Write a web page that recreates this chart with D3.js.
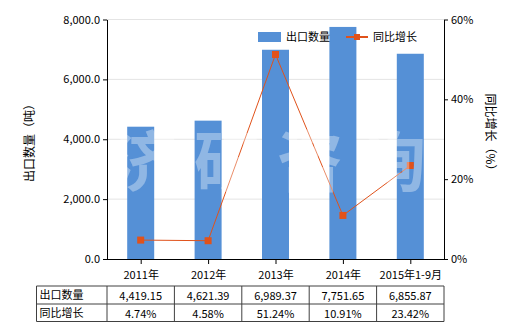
<!DOCTYPE html>
<html><head><meta charset="utf-8">
<script src="https://cdn.jsdelivr.net/npm/d3@7"></script>
<style>body{margin:0;background:#fff}text{font-family:"Noto Sans CJK SC","Noto Sans",sans-serif}</style>
</head><body>
<svg id="c" width="520" height="330"></svg>
<script>
const categories = ["2011年","2012年","2013年","2014年","2015年1-9月"];
const exportQty = [4419.15, 4621.39, 6989.37, 7751.65, 6855.87];
const growth = [4.74, 4.58, 51.24, 10.91, 23.42];
const qtyLabels = ["4,419.15","4,621.39","6,989.37","7,751.65","6,855.87"];
const growthLabels = ["4.74%","4.58%","51.24%","10.91%","23.42%"];
const leftTicks = [0, 2000, 4000, 6000, 8000];
const rightTicks = [0, 20, 40, 60];

const svg = d3.select("#c");
const L = 107, R = 444, T = 19.5, B = 259;
const barColor = "#5590D6", lineColor = "#E0521B";
const xc = d3.scalePoint().domain(categories).range([L, R]).padding(0.5);
const yL = d3.scaleLinear().domain([0, 8000]).range([B, T]);
const yR = d3.scaleLinear().domain([0, 60]).range([B, T]);

// grid
svg.append("g").selectAll("line").data(leftTicks.slice(1)).join("line")
  .attr("x1", L).attr("x2", R).attr("y1", d => yL(d)).attr("y2", d => yL(d))
  .attr("stroke", "#e4e4e4").attr("stroke-width", 1);

// bars
const bw = 27;
svg.append("g").selectAll("rect").data(exportQty).join("rect")
  .attr("x", (d, i) => xc(categories[i]) - bw / 2).attr("width", bw)
  .attr("y", d => yL(d)).attr("height", d => B - yL(d)).attr("fill", barColor);

// axes
const fmt = d3.format(",.1f");
const gl = svg.append("g").attr("transform", `translate(${L},0)`)
  .call(d3.axisLeft(yL).tickValues(leftTicks).tickFormat(fmt).tickSize(4).tickSizeOuter(0));
const gr = svg.append("g").attr("transform", `translate(${R},0)`)
  .call(d3.axisRight(yR).tickValues(rightTicks).tickFormat(d => d + "%").tickSize(4).tickSizeOuter(0));
const gx = svg.append("g").attr("transform", `translate(0,${B})`)
  .call(d3.axisBottom(xc).tickSize(5).tickSizeOuter(0).tickPadding(7));
gx.select(".domain").attr("d", `M${L},0.5H${R}`);
[gl, gr, gx].forEach(g => {
  g.selectAll("path.domain").attr("stroke", "#000");
  g.selectAll(".tick line").attr("stroke", "#000");
  g.selectAll("text").attr("fill", "#000").attr("font-size", 11)
    .attr("font-family", '"Noto Sans CJK SC","Noto Sans",sans-serif');
});

// line
const line = d3.line().x((d, i) => xc(categories[i])).y(d => yR(d));
svg.append("path").datum(growth).attr("d", line).attr("fill", "none")
  .attr("stroke", lineColor).attr("stroke-width", 1);
svg.append("g").selectAll("rect").data(growth).join("rect")
  .attr("x", (d, i) => xc(categories[i]) - 3.5).attr("y", d => yR(d) - 3.5)
  .attr("width", 7).attr("height", 7).attr("fill", lineColor);

// axis titles
svg.append("text").attr("transform", "translate(34,140) rotate(-90)").attr("text-anchor", "middle")
  .attr("font-size", 12).attr("fill", "#000").text("出口数量（吨）");
svg.append("text").attr("transform", "translate(486,135) rotate(90)").attr("text-anchor", "middle")
  .attr("font-size", 12).attr("fill", "#000").text("同比增长（%）");

// legend
const lg = svg.append("g");
lg.append("rect").attr("x", 258).attr("y", 32).attr("width", 23).attr("height", 10).attr("fill", barColor);
lg.append("text").attr("x", 286).attr("y", 41).attr("font-size", 11).attr("fill", "#000").text("出口数量");
lg.append("line").attr("x1", 346).attr("x2", 368).attr("y1", 37).attr("y2", 37).attr("stroke", lineColor).attr("stroke-width", 2);
lg.append("rect").attr("x", 354).attr("y", 34).attr("width", 6).attr("height", 6).attr("fill", lineColor);
lg.append("text").attr("x", 373).attr("y", 41).attr("font-size", 11).attr("fill", "#000").text("同比增长");

// watermark
svg.append("text").attr("x", 111).attr("y", 186).attr("text-anchor", "start")
  .attr("font-size", 66).attr("font-weight", "bold").attr("letter-spacing", 17)
  .attr("fill", "#fff").attr("opacity", 0.35).text("济研咨询");

// table
const tT = 286, tM = 304, tB = 321.5, tL = 36.5;
const tg = svg.append("g");
const step = (R - L) / categories.length;
const colEdges = [tL, L].concat(categories.map((c, i) => L + step * (i + 1)));
tg.selectAll("line.v").data(colEdges).join("line").attr("class", "v")
  .attr("x1", d => d).attr("x2", d => d).attr("y1", tT).attr("y2", tB).attr("stroke", "#404040");
tg.selectAll("line.h").data([tT, tM, tB]).join("line").attr("class", "h")
  .attr("x1", tL).attr("x2", R).attr("y1", d => d).attr("y2", d => d).attr("stroke", "#404040");
const rows = [{name: "出口数量", vals: qtyLabels, y: tT}, {name: "同比增长", vals: growthLabels, y: tM}];
rows.forEach(r => {
  tg.append("text").attr("x", tL + 3).attr("y", r.y + 13).attr("font-size", 11).attr("fill", "#000").text(r.name);
  tg.selectAll(null).data(r.vals).join("text").attr("x", (d, i) => xc(categories[i])).attr("y", r.y + 14)
    .attr("text-anchor", "middle").attr("font-size", 11).attr("fill", "#000").text(d => d);
});
</script>
</body></html>
